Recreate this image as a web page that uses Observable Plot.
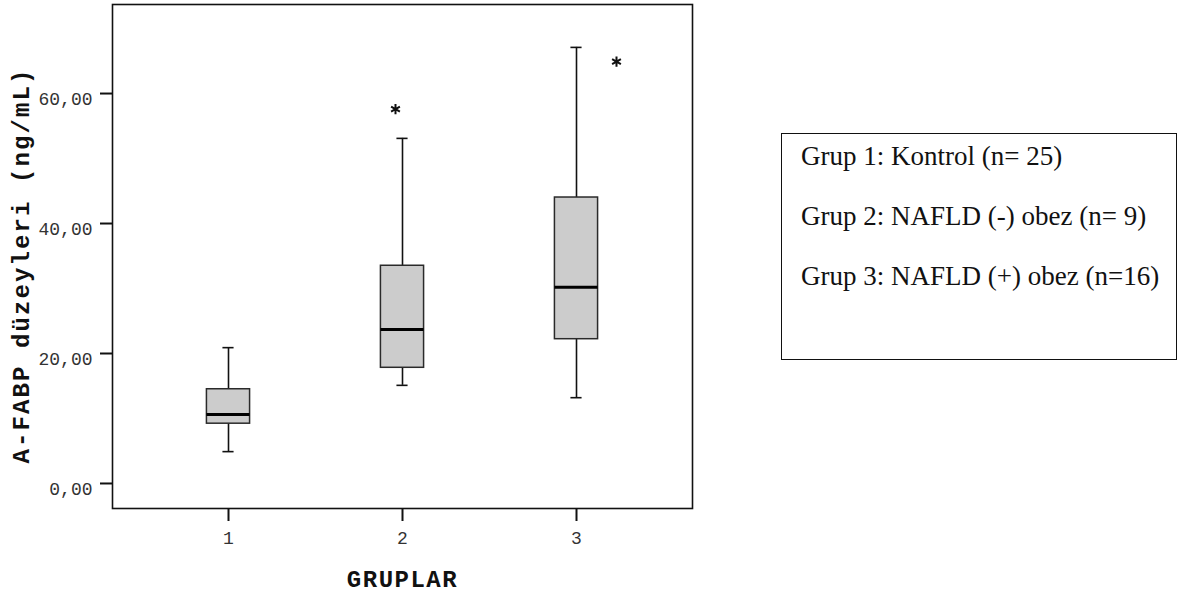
<!DOCTYPE html>
<html><head><meta charset="utf-8">
<script src="https://cdn.jsdelivr.net/npm/d3@7"></script>
<script src="https://cdn.jsdelivr.net/npm/@observablehq/plot@0.6"></script>
<style>
body{margin:0;background:#fff;}
#wrap{position:relative;width:1189px;height:598px;}
#legend{position:absolute;left:781px;top:133px;width:394px;height:225px;border:1.5px solid #111;font-family:"Liberation Serif","Times New Roman",serif;font-size:27px;color:#111;}
#legend div{position:absolute;left:19px;white-space:nowrap;line-height:30px;}
</style></head><body><div id="wrap"><div id="legend"></div></div>
<script>
// Data
const groups = [1, 2, 3];
const q1 = [9.2, 17.8, 22.2];
const median = [10.6, 23.7, 30.2];
const q3 = [14.5, 33.5, 44.0];
const whiskerLow = [4.9, 15.1, 13.2];
const whiskerHigh = [20.9, 53.1, 67.1];
const extremeGroups = [2, 3];
const extremeValues = [57.6, 64.9];
const yTicks = [0, 20, 40, 60];
const legendLines = ["Grup 1: Kontrol (n= 25)", "Grup 2: NAFLD (-) obez (n= 9)", "Grup 3: NAFLD (+) obez (n=16)"];
const yLabel = "A-FABP düzeyleri (ng/mL)";
const xLabel = "GRUPLAR";

const data = groups.map((g, i) => ({g, q1: q1[i], med: median[i], q3: q3[i], lo: whiskerLow[i], hi: whiskerHigh[i]}));
const extremes = extremeGroups.map((g, i) => ({g, v: extremeValues[i]}));
const halfBox = 0.124, halfCap = 0.032;
const mono = "'Liberation Mono','Courier New',monospace";
const fmt = d => d.toFixed(2).replace(".", ",");

const plot = Plot.plot({
  width: 1189, height: 598,
  marginLeft: 112, marginRight: 497, marginTop: 4, marginBottom: 90,
  x: {type: "linear", domain: [1/3, 11/3]},
  y: {domain: [-3.85, 73.7]},
  style: {background: "#fff", overflow: "visible"},
  marks: [
    Plot.ruleX(data, {x: "g", y1: "q3", y2: "hi", stroke: "#111", strokeWidth: 1.6}),
    Plot.ruleX(data, {x: "g", y1: "lo", y2: "q1", stroke: "#111", strokeWidth: 1.6}),
    Plot.ruleY(data, {y: "hi", x1: d => d.g - halfCap, x2: d => d.g + halfCap, stroke: "#111", strokeWidth: 1.6}),
    Plot.ruleY(data, {y: "lo", x1: d => d.g - halfCap, x2: d => d.g + halfCap, stroke: "#111", strokeWidth: 1.6}),
    Plot.rect(data, {x1: d => d.g - halfBox, x2: d => d.g + halfBox, y1: "q1", y2: "q3", fill: "#cccccc", stroke: "#2a2a2a", strokeWidth: 1.5}),
    Plot.ruleY(data, {y: "med", x1: d => d.g - halfBox, x2: d => d.g + halfBox, stroke: "#000", strokeWidth: 3}),
    Plot.dot(extremes.filter(d => d.g === 2), {x: "g", y: "v", dx: -7, symbol: "asterisk", r: 4.8, stroke: "#111", strokeWidth: 2}),
    Plot.dot(extremes.filter(d => d.g === 3), {x: "g", y: "v", dx: 40, symbol: "asterisk", r: 4.8, stroke: "#111", strokeWidth: 2}),
    Plot.frame({stroke: "#111", strokeWidth: 1.6}),
    Plot.axisY({ticks: yTicks, tickSize: 12, tickFormat: () => "", label: null, stroke: "#111", strokeWidth: 2}),
    Plot.axisY({ticks: yTicks, tickSize: 0, tickPadding: 20, dy: 6, tickFormat: fmt, label: null, fontSize: 18, fontFamily: mono, fill: "#333"}),
    Plot.axisX({ticks: groups, tickSize: 13, tickPadding: 10, tickFormat: d => String(d), label: null, stroke: "#111", strokeWidth: 2, fontSize: 18, fontFamily: mono, fill: "#333"}),
    Plot.text([yLabel], {frameAnchor: "left", rotate: -90, dx: -91, dy: 9, textAnchor: "middle", lineAnchor: "middle", fontSize: 24, fontWeight: "bold", fontFamily: mono, fill: "#111", text: d => d}),
    Plot.text([xLabel], {frameAnchor: "bottom", dy: 71, textAnchor: "middle", lineAnchor: "middle", fontSize: 24, fontWeight: "bold", fontFamily: mono, fill: "#111", text: d => d})
  ]
});
document.getElementById("wrap").prepend(plot);
plot.style.position = "absolute"; plot.style.left = "0"; plot.style.top = "0";
d3.select(plot).selectAll("text").each(function() {
  const t = this.textContent;
  if (t === yLabel) this.setAttribute("letter-spacing", "2.1");
  if (t === xLabel) this.setAttribute("letter-spacing", "1.5");
});
const legend = document.getElementById("legend");
const legendTops = [7, 67, 127];
legendLines.forEach((t, i) => {
  const el = document.createElement("div");
  el.textContent = t;
  el.style.top = legendTops[i] + "px";
  legend.appendChild(el);
});
</script></body></html>
